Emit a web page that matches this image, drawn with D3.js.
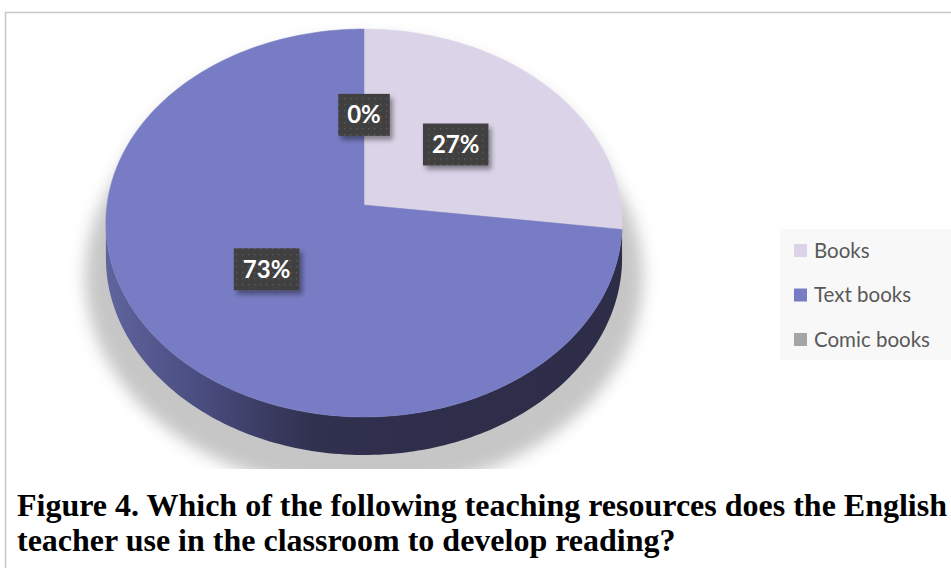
<!DOCTYPE html>
<html><head><meta charset="utf-8">
<script src="https://cdn.jsdelivr.net/npm/d3@7"></script>
<style>html,body{margin:0;padding:0;background:#fff;}svg{display:block;}</style>
</head><body>
<svg id="chart" width="951" height="568"></svg>
<script>
const categories = ["Books", "Text books", "Comic books"];
const values = [27, 73, 0];
const labels = ["27%", "73%", "0%"];
const colors = ["#dbd4e9", "#787cc4", "#a5a5a5"];
const captionLines = ["Figure 4. Which of the following teaching resources does the English",
                      "teacher use in the classroom to develop reading?"];

const svg = d3.select("#chart");
const defs = svg.append("defs");

// frame
svg.append("rect").attr("x",5.5).attr("y",12.5).attr("width",1000).attr("height",600)
  .attr("fill","#fff").attr("stroke","#c6c6c6").attr("stroke-width",1.5);

// perspective pie geometry
const cx = 364, cy = 205, A = 257, B = 192.3, P = 0.0928, H = 34.5;
function proj(theta, r, h){
  const u = -r*Math.cos(theta);
  const w = 1 - P*u;
  return [cx + A*r*Math.sin(theta)/w, cy + (B*u + h)/w];
}

const pie = d3.pie().sort(null).value(d=>d)(values);

// shadow
const blur = defs.append("filter").attr("id","blur").attr("x","-20%").attr("y","-20%").attr("width","140%").attr("height","140%");
blur.append("feGaussianBlur").attr("stdDeviation",8);
defs.append("clipPath").attr("id","shclip").append("rect").attr("x",0).attr("y",0).attr("width",951).attr("height",469);
function ringPath(r, h){
  const pts = d3.range(0, 361, 3).map(a=>proj(a*Math.PI/180, r, h));
  return d3.line()(pts) + "Z";
}
const sh = svg.append("g").attr("clip-path","url(#shclip)").append("g").attr("filter","url(#blur)").attr("fill","#c6c6c6");
sh.append("path").attr("d", ringPath(1.0, 10));
sh.append("path").attr("d", ringPath(1.08, 50));

// side gradient
const grad = defs.append("linearGradient").attr("id","side").attr("gradientUnits","userSpaceOnUse")
  .attr("x1",106).attr("x2",622).attr("y1",0).attr("y2",0);
[[0,"#60649e"],[0.18,"#4a4d80"],[0.4,"#30304f"],[1,"#2d2d48"]].forEach(s=>grad.append("stop").attr("offset",s[0]).attr("stop-color",s[1]));

const visA0 = Math.acos(-P), visA1 = 2*Math.PI - Math.acos(-P);
pie.forEach((d,i)=>{
  const a0 = Math.max(d.startAngle, visA0), a1 = Math.min(d.endAngle, visA1);
  if (a1 <= a0) return;
  const n = Math.max(2, Math.ceil((a1-a0)/0.02));
  const top = d3.range(n+1).map(k=>proj(a0+(a1-a0)*k/n, 1, 0));
  const bot = d3.range(n+1).map(k=>proj(a1-(a1-a0)*k/n, 1, H));
  svg.append("path").attr("d", d3.line()(top.concat(bot))+"Z")
    .attr("fill", i===1 ? "url(#side)" : d3.color(colors[i]).darker(1.6));
});

// top faces
pie.forEach((d,i)=>{
  if (d.endAngle - d.startAngle <= 0) return;
  const n = Math.max(2, Math.ceil((d.endAngle-d.startAngle)/0.02));
  const pts = [proj(0,0,0)].concat(d3.range(n+1).map(k=>proj(d.startAngle+(d.endAngle-d.startAngle)*k/n,1,0)));
  svg.append("path").attr("d", d3.line()(pts)+"Z").attr("fill", colors[i])
    .attr("stroke", colors[i]).attr("stroke-width",0.5);
});

// label boxes
const pat = defs.append("pattern").attr("id","dots").attr("patternUnits","userSpaceOnUse").attr("width",6).attr("height",6);
pat.append("rect").attr("width",6).attr("height",6).attr("fill","#404040");
pat.append("rect").attr("x",2).attr("y",2).attr("width",1.3).attr("height",1.3).attr("fill","#5c5c5c");
const ds = defs.append("filter").attr("id","ds").attr("x","-30%").attr("y","-30%").attr("width","170%").attr("height","170%");
ds.append("feDropShadow").attr("dx",3).attr("dy",4).attr("stdDeviation",2.5).attr("flood-color","#000").attr("flood-opacity",0.4);

pie.forEach((d,i)=>{
  const mid = (d.startAngle + d.endAngle)/2;
  const [lx, ly] = proj(mid, 0.49, 0);
  const g = svg.append("g");
  const t = g.append("text").attr("x",lx).attr("y",ly+8.5).attr("text-anchor","middle")
    .attr("font-family","Lato, 'Open Sans', sans-serif").attr("font-weight","bold").attr("font-size",24)
    .attr("fill","#fff").text(labels[i]);
  const tw = t.node().getComputedTextLength();
  g.insert("rect","text").attr("x",lx-tw/2-9).attr("y",ly-21).attr("width",tw+18).attr("height",42)
    .attr("fill","url(#dots)").attr("filter","url(#ds)");
});

// legend
svg.append("rect").attr("x",780).attr("y",229).attr("width",175).attr("height",131).attr("fill","#f8f8f8");
const ly0 = 250, lstep = 44.5;
categories.forEach((c,i)=>{
  const y = ly0 + i*lstep;
  svg.append("rect").attr("x",794).attr("y",y-6).attr("width",13).attr("height",13).attr("fill",colors[i]);
  svg.append("text").attr("x",814).attr("y",y+7.5).attr("font-family","Lato, 'Open Sans', sans-serif")
    .attr("font-size",20.5).attr("fill","#595959").text(c);
});

// caption: same horizontal compression for both lines
const capTexts = captionLines.map((s,i)=>svg.append("text").attr("x",17).attr("y",516 + i*35)
    .attr("font-family","'Liberation Serif', 'Times New Roman', serif")
    .attr("font-weight","bold").attr("font-size",31).attr("fill","#000").text(s));
const factor = 930 / capTexts[0].node().getComputedTextLength();
capTexts.forEach(t=>{
  const w = t.node().getComputedTextLength();
  t.attr("textLength", w*factor).attr("lengthAdjust","spacingAndGlyphs");
});
</script>
</body></html>
